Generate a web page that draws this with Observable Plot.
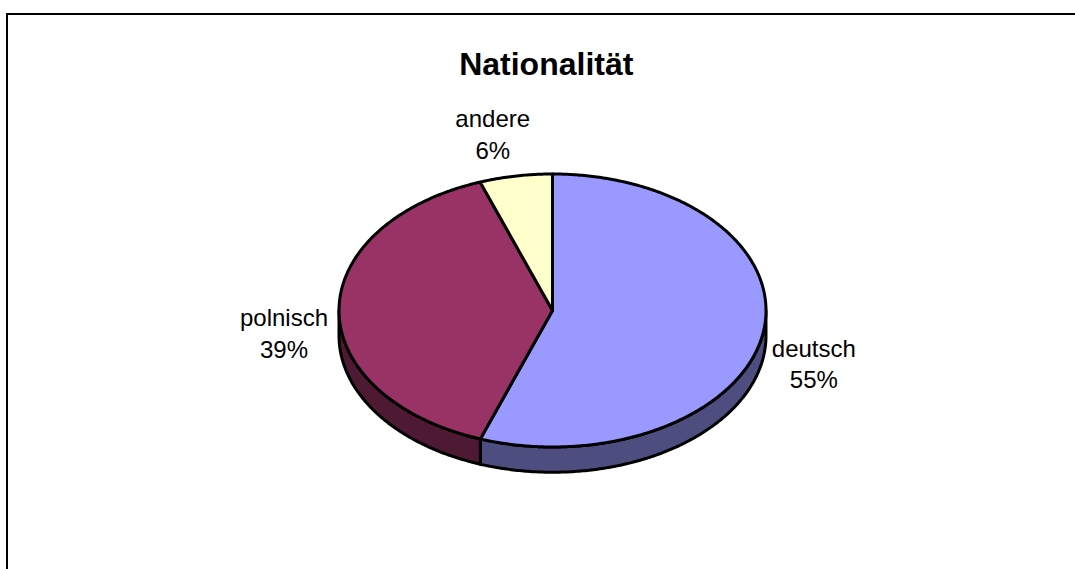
<!DOCTYPE html>
<html>
<head>
<meta charset="utf-8">
<script src="https://cdn.jsdelivr.net/npm/d3@7"></script>
<script src="https://cdn.jsdelivr.net/npm/@observablehq/plot@0.6"></script>
<style>
html,body{margin:0;padding:0;background:#fff}
svg{display:block}
</style>
</head>
<body>
<div id="chart"></div>
<script>
const categories = ["deutsch", "polnisch", "andere"];
const values = [55.49, 39, 5.51];
const colors = ["#9999FF", "#993366", "#FFFFCC"];
const sideColors = ["#4D4D80", "#4D1933", "#807F66"];
const chartTitle = "Nationalität";

const depth = 0.185;
const total = d3.sum(values);
const ends = d3.cumsum(values).map(v => v / total * 2 * Math.PI);
const slices = categories.map((name, i) => ({name, value: values[i], a0: i ? ends[i - 1] : 0, a1: ends[i]}));
const arc = (a0, a1) => {
  const n = Math.max(2, Math.ceil((a1 - a0) / 0.01));
  return d3.range(n + 1).map(k => a0 + (a1 - a0) * k / n);
};
const pt = (a, drop = 0) => ({x: Math.sin(a), y: Math.cos(a) - drop});

const topPts = slices.flatMap(s => [
  {...s, x: 0, y: 0},
  ...arc(s.a0, s.a1).map(a => ({...s, ...pt(a)})),
  {...s, x: 0, y: 0}
]);
const wallPts = slices.flatMap(s => {
  const a0 = Math.max(s.a0, Math.PI / 2), a1 = Math.min(s.a1, 3 * Math.PI / 2);
  if (a1 <= a0) return [];
  const as = arc(a0, a1);
  const pts = [...as.map(a => pt(a)), ...as.slice().reverse().map(a => pt(a, depth))];
  pts.push(pts[0]);
  return pts.map(p => ({name: s.name + " side", ...p}));
});
const labelText = s => `${s.name}\n${Math.round(s.value)}%`;
const labelFor = name => slices.filter(s => s.name === name);

const textStyle = {fontFamily: "Liberation Sans, Arial, sans-serif", fontSize: 24, lineHeight: 1.3, fill: "#000", text: labelText};

const plot = Plot.plot({
  width: 1075,
  height: 569,
  marginLeft: 6.5,
  marginTop: 13.5,
  marginRight: 0,
  marginBottom: 0,
  style: {background: "#fff", overflow: "visible"},
  x: {domain: [-1, 1], range: [338.5, 765.5], axis: null},
  y: {domain: [-1, 1], range: [446.5, 173.5], axis: null},
  color: {
    domain: [...categories, ...categories.map(c => c + " side")],
    range: [...colors, ...sideColors]
  },
  marks: [
    Plot.frame({anchor: "left", stroke: "#000", strokeWidth: 2, strokeOpacity: 1}),
    Plot.frame({anchor: "top", stroke: "#000", strokeWidth: 2, strokeOpacity: 1}),
    Plot.text([chartTitle], {
      frameAnchor: "top", dx: 5, dy: 38,
      fontFamily: "Liberation Sans, Arial, sans-serif", fontWeight: "bold", fontSize: 32, lineAnchor: "top", fill: "#000"
    }),
    Plot.line(wallPts, {x: "x", y: "y", z: "name", fill: "name", stroke: "#000", strokeWidth: 3, strokeLinejoin: "round"}),
    Plot.line(topPts, {x: "x", y: "y", z: "name", fill: "name", stroke: "#000", strokeWidth: 3, strokeLinejoin: "round"}),
    Plot.text(labelFor("deutsch"), {...textStyle, x: s => Math.sin((s.a0 + s.a1) / 2), y: s => Math.cos((s.a0 + s.a1) / 2), dx: 51, dy: 28.5}),
    Plot.text(labelFor("polnisch"), {...textStyle, x: s => Math.sin((s.a0 + s.a1) / 2), y: s => Math.cos((s.a0 + s.a1) / 2), dx: -55, dy: 21.5}),
    Plot.text(labelFor("andere"), {...textStyle, x: s => Math.sin((s.a0 + s.a1) / 2), y: s => Math.cos((s.a0 + s.a1) / 2), dx: -23, dy: -43})
  ]
});
document.getElementById("chart").append(plot);
</script>
</body>
</html>
